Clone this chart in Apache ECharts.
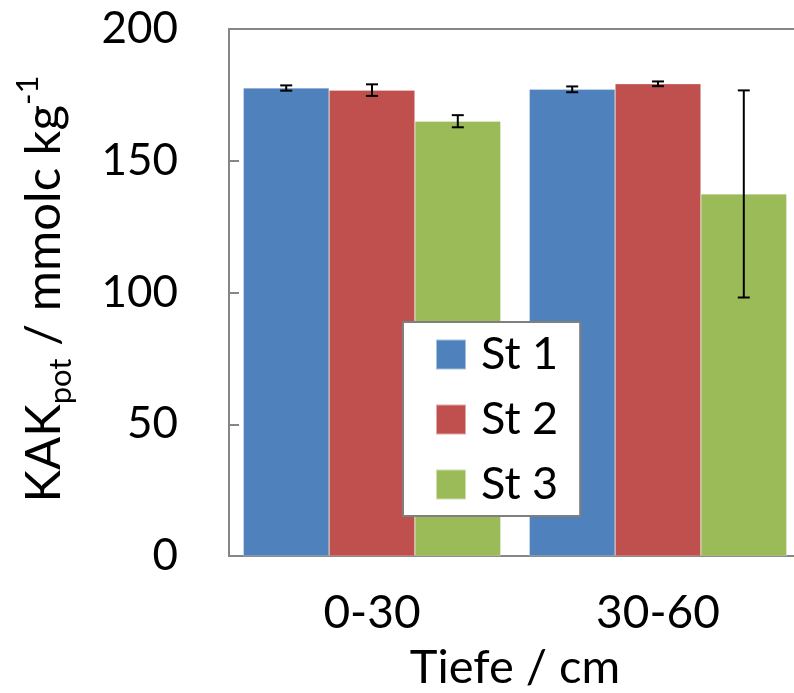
<!DOCTYPE html>
<html><head><meta charset="utf-8">
<script src="https://cdn.jsdelivr.net/npm/echarts@6/dist/echarts.min.js"></script>
<style>html,body{margin:0;padding:0;background:#fff}#c{width:794px;height:693px}</style>
</head><body><div id="c"></div>
<script>
const categories = ['0-30', '30-60'];
const seriesNames = ['St 1', 'St 2', 'St 3'];
const st1 = [177.6, 177.1];
const st2 = [176.8, 179.2];
const st3 = [165.0, 137.4];
const err1 = [1.0, 1.1];
const err2 = [2.2, 0.9];
const err3 = [2.3, 39.3];
const yTicks = [0, 50, 100, 150, 200];

const colors = ['#4F81BD', '#C0504D', '#9BBB59'];
const values = [st1, st2, st3];
const errs = [err1, err2, err3];
const font = 'Lato, "Open Sans", sans-serif';
const catGap = 0.10;

const chart = echarts.init(document.getElementById('c'));
const series = [];
values.forEach((v, i) => {
  series.push({
    name: seriesNames[i], type: 'bar', data: v,
    barGap: '0%', barCategoryGap: '10%',
    itemStyle: { color: colors[i], borderColor: 'rgba(255,255,255,0.5)', borderWidth: 0.5 }
  });
});
values.forEach((v, i) => {
  series.push({
    name: 'err' + i, type: 'custom', z: 10,
    data: v.map((val, k) => [k, val - errs[i][k], val + errs[i][k]]),
    renderItem: function (params, api) {
      const k = api.value(0);
      const lo = api.coord([k, api.value(1)]);
      const hi = api.coord([k, api.value(2)]);
      const catW = api.size([1, 0])[0];
      const bw = catW * (1 - catGap) / 3;
      const x = lo[0] + (i - 1) * bw;
      const cap = 6;
      const st = { stroke: '#000', lineWidth: 2, fill: null };
      return { type: 'group', children: [
        { type: 'line', shape: { x1: x, y1: lo[1], x2: x, y2: hi[1] }, style: st },
        { type: 'line', shape: { x1: x - cap, y1: lo[1], x2: x + cap, y2: lo[1] }, style: st },
        { type: 'line', shape: { x1: x - cap, y1: hi[1], x2: x + cap, y2: hi[1] }, style: st }
      ]};
    }
  });
});

chart.setOption({
  animation: false,
  textStyle: { fontFamily: font },
  grid: { left: 229, right: -7, top: 29, bottom: 137, show: true, borderColor: '#868686', borderWidth: 2, backgroundColor: 'transparent', containLabel: false, outerBoundsMode: 'none' },
  legend: {
    data: seriesNames, orient: 'vertical', left: 403, top: 322,
    itemWidth: 30, itemHeight: 30, itemGap: 20, icon: 'rect',
    backgroundColor: '#fff', borderColor: '#7f7f7f', borderWidth: 2,
    padding: [10, 22, 9, 32],
    textStyle: { fontFamily: font, fontSize: 45, color: '#000', padding: [0, 0, 0, 10] }
  },
  xAxis: {
    type: 'category', data: categories,
    axisLine: { lineStyle: { color: '#868686', width: 2 } },
    axisTick: { inside: true, length: 10, lineStyle: { color: '#868686', width: 2 } },
    axisLabel: { fontFamily: font, fontSize: 46, color: '#000', margin: 34 },
    name: 'Tiefe / cm', nameLocation: 'middle', nameGap: 88,
    nameTextStyle: { fontFamily: font, fontSize: 47, color: '#000' }
  },
  yAxis: {
    type: 'value', min: 0, max: 200, interval: 50,
    axisLine: { show: true, lineStyle: { color: '#868686', width: 2 } },
    axisTick: { show: true, inside: true, length: 10, lineStyle: { color: '#868686', width: 2 } },
    splitLine: { show: false },
    axisLabel: { fontFamily: font, fontSize: 44, color: '#000', margin: 51,
      formatter: v => yTicks.includes(v) ? String(v) : '' }
  },
  graphic: [{
    type: 'text', rotation: Math.PI / 2,
    x: 44, y: 289,
    style: {
      text: '{m|KAK}{sub|pot}{m| / mmolc kg}{sup|-1}',
      align: 'center', verticalAlign: 'middle',
      rich: {
        m: { fontFamily: font, fontSize: 49, color: '#000', lineHeight: 64, verticalAlign: 'middle' },
        sub: { fontFamily: font, fontSize: 31, color: '#000', lineHeight: 64, verticalAlign: 'bottom' },
        sup: { fontFamily: font, fontSize: 31, color: '#000', lineHeight: 64, verticalAlign: 'top' }
      }
    }
  }],
  series: series
});
</script></body></html>
